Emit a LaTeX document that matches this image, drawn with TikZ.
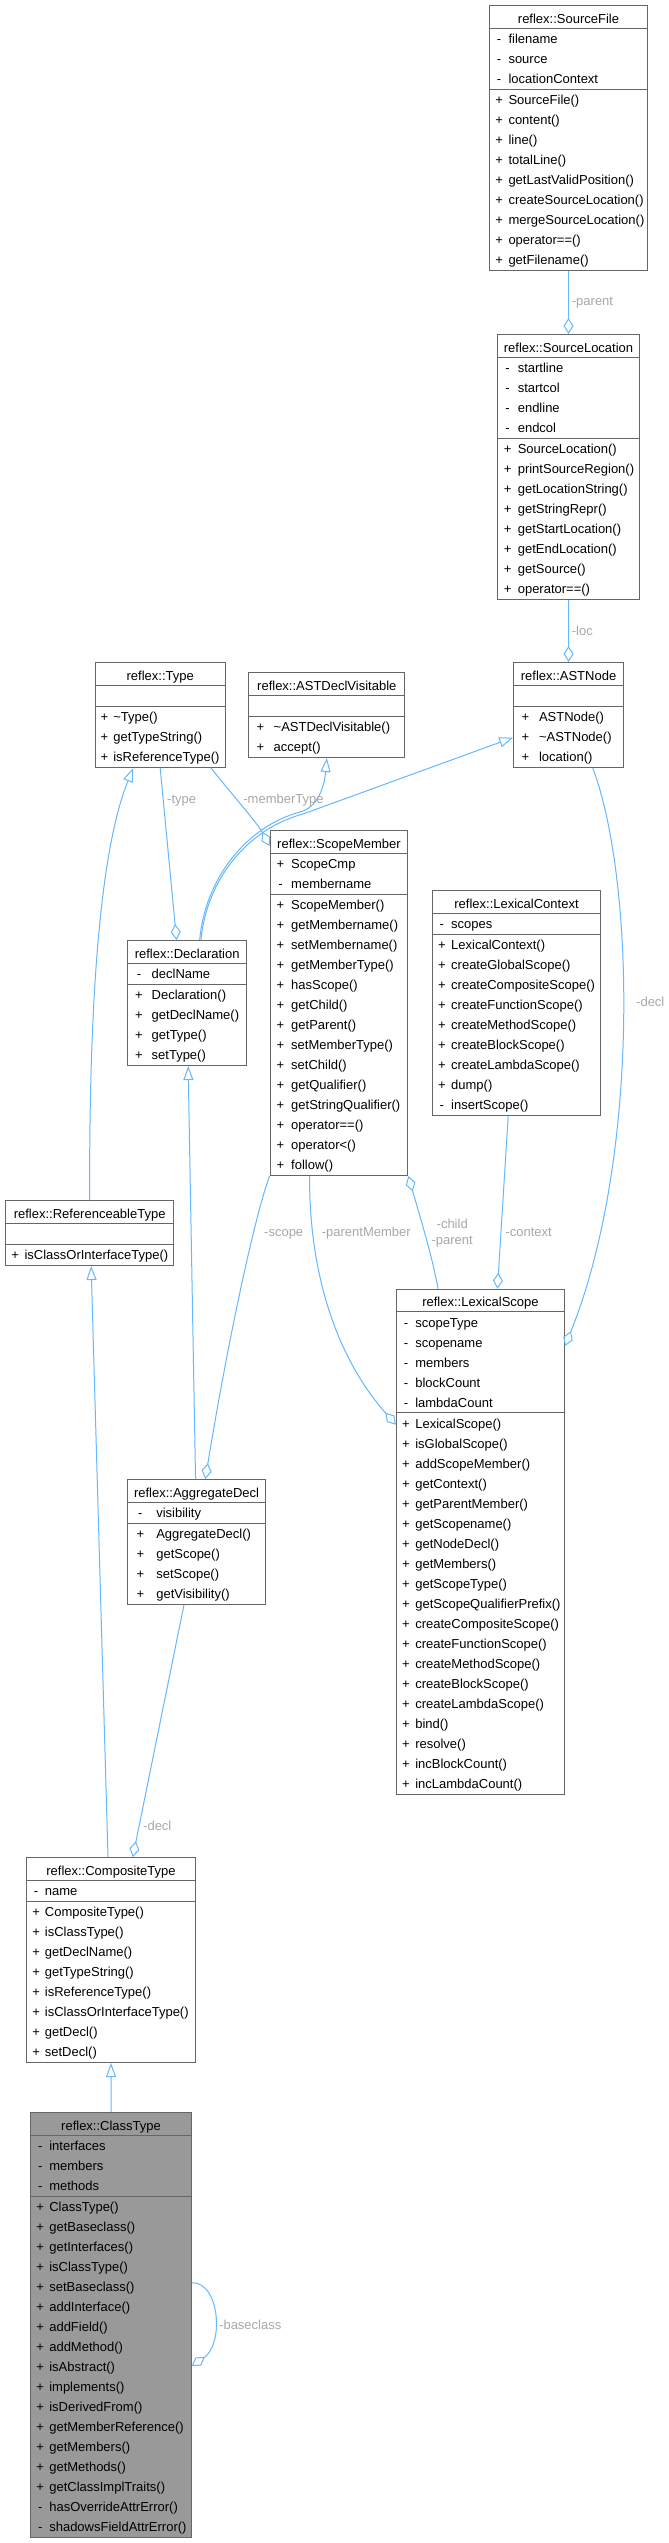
\documentclass[tikz,border=0pt]{standalone}
\usepackage{fontspec}
\setmainfont{Liberation Sans}
\usepackage{tikz}
\usetikzlibrary{arrows.meta, calc}
\definecolor{edgeblue}{RGB}{99,184,255}
\definecolor{boxgray}{RGB}{102,102,102}
\definecolor{labelgray}{RGB}{168,168,168}
\definecolor{mainfill}{RGB}{153,153,153}

% class box: name, style, x, y, width, text indent, title, attributes, operations
\newcommand{\umlclass}[9]{%
  \foreach \sg/\nm [count=\k] in {#8} {\xdef\nattr{\k}}%
  \foreach \sg/\nm [count=\k] in {#9} {\xdef\nops{\k}}%
  \pgfmathsetmacro\sepy{24+20*\nattr}%
  \pgfmathsetmacro\clsh{25+20*(\nattr+\nops)}%
  \pgfmathsetmacro\signx{10+0.35*(#6-19)}%
  \node[#2, minimum width=#5pt, minimum height=\clsh pt, anchor=north west] (#1) at (#3,#4) {};
  \node[rowtext, anchor=base] (#1-title) at ($(#1.north)+(0,18)$) {#7};
  \draw[sepline] ($(#1.north west)+(0,23)$) -- ($(#1.north east)+(0,23)$);
  \draw[sepline] ($(#1.north west)+(0,\sepy)$) -- ($(#1.north east)+(0,\sepy)$);
  \foreach \sg/\nm [count=\k] in {#8} {
    \node[rowtext, anchor=base] (#1-as\k) at ($(#1.north west)+(\signx,38.8+20*\k-20)$) {\sg};
    \node[rowtext, anchor=base west] (#1-a\k) at ($(#1.north west)+(#6,38.8+20*\k-20)$) {\nm};
  }%
  \foreach \sg/\nm [count=\k] in {#9} {
    \node[rowtext, anchor=base] (#1-ms\k) at ($(#1.north west)+(\signx,\sepy+15.8+20*\k-20)$) {\sg};
    \node[rowtext, anchor=base west] (#1-m\k) at ($(#1.north west)+(#6,\sepy+15.8+20*\k-20)$) {\nm};
  }%
}

\begin{document}
\begin{tikzpicture}[x=1pt, y=-1pt,
  cls/.style={draw=boxgray, fill=white, line width=1pt, inner sep=0pt},
  clsmain/.style={cls, fill=mainfill},
  sepline/.style={draw=boxgray, line width=1pt},
  rowtext/.style={inner sep=0pt, font=\fontsize{13}{15}\selectfont},
  lbl/.style={inner sep=0pt, text=labelgray, font=\fontsize{13}{15}\selectfont,
              text height=9.5pt, text depth=2.5pt},
  lbltwo/.style={inner sep=0pt, text=labelgray, font=\fontsize{13}{15.7}\selectfont, align=center},
  inh/.style={draw=edgeblue, line width=1pt, -{Triangle[open, length=14pt, width=10pt]}},
  agg/.style={draw=edgeblue, line width=1pt, -{Diamond[open, length=16pt, width=10pt]}}]
\path[fill=white, use as bounding box] (0,0) rectangle (669,2543);

% classes
\umlclass{srcfile}{cls}{489}{5}{158}{19.3}{reflex::SourceFile}
  {-/filename, -/source, -/locationContext}
  {+/SourceFile(), +/content(), +/line(), +/totalLine(), +/getLastValidPosition(),
   +/createSourceLocation(), +/mergeSourceLocation(), +/operator==(), +/getFilename()}
\umlclass{srcloc}{cls}{497}{334}{142}{20.6}{reflex::SourceLocation}
  {-/startline, -/startcol, -/endline, -/endcol}
  {+/SourceLocation(), +/printSourceRegion(), +/getLocationString(), +/getStringRepr(),
   +/getStartLocation(), +/getEndLocation(), +/getSource(), +/operator==()}
\umlclass{astnode}{cls}{513.2}{662}{109.7}{25.6}{reflex::ASTNode}
  { / }
  {+/ASTNode(), +/\textasciitilde ASTNode(), +/location()}
\umlclass{type}{cls}{94.7}{662}{130}{18.4}{reflex::Type}
  { / }
  {+/\textasciitilde Type(), +/getTypeString(), +/isReferenceType()}
\umlclass{declvis}{cls}{248.3}{672}{156}{25.2}{reflex::ASTDeclVisitable}
  { / }
  {+/\textasciitilde ASTDeclVisitable(), +/accept()}
\umlclass{scopemember}{cls}{269.6}{830}{137.8}{21.4}{reflex::ScopeMember}
  {+/ScopeCmp, -/membername}
  {+/ScopeMember(), +/getMembername(), +/setMembername(), +/getMemberType(), +/hasScope(),
   +/getChild(), +/getParent(), +/setMemberType(), +/setChild(), +/getQualifier(),
   +/getStringQualifier(), +/operator==(), +/operator<(), +/follow()}
\umlclass{lexctx}{cls}{431.7}{890}{168.6}{19.3}{reflex::LexicalContext}
  {-/scopes}
  {+/LexicalContext(), +/createGlobalScope(), +/createCompositeScope(), +/createFunctionScope(),
   +/createMethodScope(), +/createBlockScope(), +/createLambdaScope(), +/dump(), -/insertScope()}
\umlclass{decl}{cls}{127.1}{940}{119.1}{24.4}{reflex::Declaration}
  {-/declName}
  {+/Declaration(), +/getDeclName(), +/getType(), +/setType()}
\umlclass{reftype}{cls}{5.1}{1200}{168.1}{19.2}{reflex::ReferenceableType}
  { / }
  {+/isClassOrInterfaceType()}
\umlclass{lexscope}{cls}{395.9}{1288.7}{168.1}{19.2}{reflex::LexicalScope}
  {-/scopeType, -/scopename, -/members, -/blockCount, -/lambdaCount}
  {+/LexicalScope(), +/isGlobalScope(), +/addScopeMember(), +/getContext(), +/getParentMember(),
   +/getScopename(), +/getNodeDecl(), +/getMembers(), +/getScopeType(), +/getScopeQualifierPrefix(),
   +/createCompositeScope(), +/createFunctionScope(), +/createMethodScope(), +/createBlockScope(),
   +/createLambdaScope(), +/bind(), +/resolve(), +/incBlockCount(), +/incLambdaCount()}
\umlclass{aggdecl}{cls}{126.7}{1479}{138.7}{29.4}{reflex::AggregateDecl}
  {-/visibility}
  {+/AggregateDecl(), +/getScope(), +/setScope(), +/getVisibility()}
\umlclass{comptype}{cls}{26.4}{1857}{168.2}{18.3}{reflex::CompositeType}
  {-/name}
  {+/CompositeType(), +/isClassType(), +/getDeclName(), +/getTypeString(), +/isReferenceType(),
   +/isClassOrInterfaceType(), +/getDecl(), +/setDecl()}
\umlclass{classtype}{clsmain}{30.4}{2112}{160.3}{18.7}{reflex::ClassType}
  {-/interfaces, -/members, -/methods}
  {+/ClassType(), +/getBaseclass(), +/getInterfaces(), +/isClassType(), +/setBaseclass(),
   +/addInterface(), +/addField(), +/addMethod(), +/isAbstract(), +/implements(),
   +/isDerivedFrom(), +/getMemberReference(), +/getMembers(), +/getMethods(),
   +/getClassImplTraits(), -/hasOverrideAttrError(), -/shadowsFieldAttrError()}

% relations
\draw[agg] (srcfile.south) -- (srcloc.north);
\draw[agg] (srcloc.south) -- (astnode.north);
\draw[agg] ($(type.south east)+(-14.7,0)$) .. controls (235,798) and (258,824) .. ($(scopemember.north west)+(0,16)$);
\draw[agg] (type.south) -- ($(decl.north)+(-10.6,0)$);
\draw[inh] ($(decl.north)+(12.5,0)$) .. controls (205,880) and (245,827) .. (300,812)
  .. controls (316,808) and (324,790) .. (declvis.south);
\draw[inh] ($(decl.north)+(13.8,0)$) .. controls (206.5,880) and (247,829) .. (303,814)
  -- ($(astnode.north west)+(0,75.5)$);
\draw[inh] (reftype.north) .. controls (89,1000) and (100,850) .. ($(type.south)+(-27,0)$);
\draw[inh] ($(comptype.north)+(-3,0)$) -- ($(reftype.south)+(1.5,0)$);
\draw[inh] ($(aggdecl.north)+(-1,0)$) -- ($(decl.south)+(1,0)$);
\draw[agg] (scopemember.south west) .. controls (255,1215) and (228,1340) .. ($(aggdecl.north)+(8.8,0)$);
\draw[agg] ($(scopemember.south west)+(40,0)$) .. controls (309,1260) and (330,1350) .. ($(lexscope.north west)+(0,136)$);
\draw[agg] ($(lexscope.north west)+(42.2,0)$) .. controls (432,1255) and (418,1210) .. (scopemember.south east);
\draw[agg] ($(lexctx.south)+(-8.3,0)$) -- ($(lexscope.north)+(17,0)$);
\draw[agg] ($(astnode.south)+(24.2,0)$) .. controls (635,880) and (640,1160) .. ($(lexscope.north east)+(0,57.3)$);
\draw[agg] ($(aggdecl.south)+(-12.6,0)$) -- ($(comptype.north)+(21.8,0)$);
\draw[inh] (classtype.north) -- (comptype.south);
\draw[agg] ($(classtype.north east)+(0,170.7)$) .. controls (220,2282) and (224,2344) .. ($(classtype.north east)+(0,254)$);

% edge labels
\node[lbl, anchor=west] (lbl-parent) at (571.7,302) {-parent};
\node[lbl, anchor=west] (lbl-loc) at (571.7,631.7) {-loc};
\node[lbl] (lbl-membertype) at (283.5,800) {-memberType};
\node[lbl, anchor=west] (lbl-type) at (167,800) {-type};
\node[lbl] (lbl-scope) at (283.7,1233) {-scope};
\node[lbl] (lbl-parentmember) at (366.3,1233) {-parentMember};
\node[lbltwo] (lbl-childparent) at (452.2,1233) {-child\\-parent};
\node[lbl] (lbl-context) at (528.6,1233) {-context};
\node[lbl, anchor=west] (lbl-decl) at (636,1003) {-decl};
\node[lbl, anchor=west] (lbl-decltwo) at (143,1826.7) {-decl};
\node[lbl, anchor=west] (lbl-baseclass) at (219,2325.7) {-baseclass};
\end{tikzpicture}
\end{document}
